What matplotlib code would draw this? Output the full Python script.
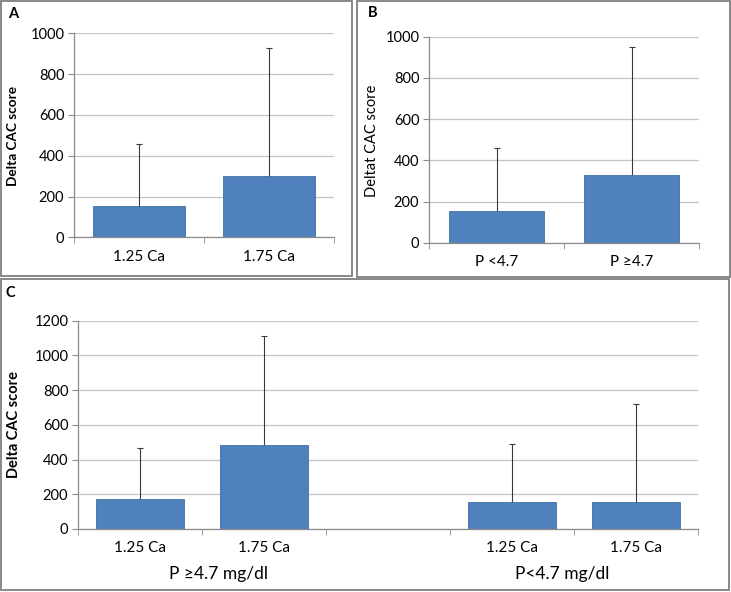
import numpy as np
import matplotlib.pyplot as plt
from matplotlib.patches import Rectangle

plt.rcParams['font.family'] = ['Lato', 'DejaVu Sans']

# панель A
a_labels = ['1.25 Ca', '1.75 Ca']
a_mean = [155, 300]
a_top = [459, 929]

# панель B
b_labels = ['P <4.7', 'P \u22654.7']
b_mean = [155, 327]
b_top = [458, 951]

# панель C (третья позиция пустая)
c_labels = ['1.25 Ca', '1.75 Ca', '', '1.25 Ca', '1.75 Ca']
c_mean = [170, 483, np.nan, 158, 158]
c_top = [468, 1113, np.nan, 489, 722]
c_groups = ['P \u22654.7 mg/dl', 'P<4.7 mg/dl']

W, H = 731, 592
bar_color = '#4f81bd'
edge_color = '#40709f'
grid_color = '#c4c4c4'
spine_color = '#8c8c8c'

fig = plt.figure(figsize=(W / 100, H / 100), dpi=100)


def px_axes(x0, y0, x1, y1):
    # координаты в пикселях (от верхнего левого угла)
    return fig.add_axes([x0 / W, 1 - y1 / H, (x1 - x0) / W, (y1 - y0) / H])


def px_text(x, y, s, **kw):
    fig.text(x / W, 1 - y / H, s, **kw)


def px_box(x0, y0, x1, y1):
    fig.patches.append(Rectangle((x0 / W, 1 - y1 / H), (x1 - x0) / W, (y1 - y0) / H,
                                 transform=fig.transFigure, fill=False,
                                 edgecolor='#7f7f7f', linewidth=1.3))


def draw_bars(ax, labels, mean, top, ymax, step, fs=11, yfs=10.5):
    x = np.arange(len(labels))
    mean = np.array(mean, dtype=float)
    top = np.array(top, dtype=float)
    err = top - mean
    ax.bar(x, mean, width=0.71, color=bar_color, edgecolor=edge_color,
           linewidth=0.6, zorder=3)
    # нижняя часть уса прячется под столбцом
    ax.errorbar(x, mean, yerr=err, fmt='none',
                ecolor='#3a3a3a', elinewidth=0.8, capsize=2.0, capthick=0.8,
                zorder=2)
    ax.set_xlim(-0.5, len(labels) - 0.5)
    ax.set_ylim(0, ymax)
    ax.set_yticks(np.arange(0, ymax + 1, step))
    ax.set_xticks(x)
    ax.set_xticklabels(labels, fontsize=fs)
    ax.set_xticks(np.arange(-0.5, len(labels)), minor=True)
    ax.tick_params(axis='x', which='major', length=0, pad=9)
    ax.tick_params(axis='x', which='minor', length=4, color=spine_color,
                   direction='out')
    ax.tick_params(axis='y', length=4, color=spine_color, labelsize=yfs,
                   pad=3)
    ax.grid(axis='y', color=grid_color, linewidth=0.9, zorder=0)
    ax.set_axisbelow(True)
    for s in ['top', 'right']:
        ax.spines[s].set_visible(False)
    for s in ['left', 'bottom']:
        ax.spines[s].set_color(spine_color)
        ax.spines[s].set_linewidth(0.9)
    ax.spines['bottom'].set_zorder(5)


# рамки панелей
px_box(1, 1, 352, 276)
px_box(357, 1, 730, 277)
px_box(1, 279, 729, 590)

# A
ax_a = px_axes(74, 33.3, 334, 237.3)
draw_bars(ax_a, a_labels, a_mean, a_top, 1000, 200)
px_text(8, 14, 'A', fontsize=10.5, fontweight='bold', va='center')
px_text(13, 136, 'Delta CAC score', fontsize=9.8, fontweight='bold',
        rotation=90, ha='center', va='center')

# B
ax_b = px_axes(429, 36.7, 699, 242.7)
draw_bars(ax_b, b_labels, b_mean, b_top, 1000, 200)
px_text(368, 13, 'B', fontsize=10.5, fontweight='bold', va='center')
px_text(372, 141, 'Deltat CAC score', fontsize=10.5,
        rotation=90, ha='center', va='center')

# C
ax_c = px_axes(78, 320.7, 698, 529)
draw_bars(ax_c, c_labels, c_mean, c_top, 1200, 200)
px_text(6, 293, 'C', fontsize=10.5, fontweight='bold', va='center')
px_text(14, 425, 'Delta CAC score', fontsize=10.5, fontweight='bold',
        rotation=90, ha='center', va='center')
px_text(218, 574, c_groups[0], fontsize=12.5, ha='center', va='center')
px_text(562, 574, c_groups[1], fontsize=12.5, ha='center', va='center')

fig.savefig('out.png', dpi=100)
